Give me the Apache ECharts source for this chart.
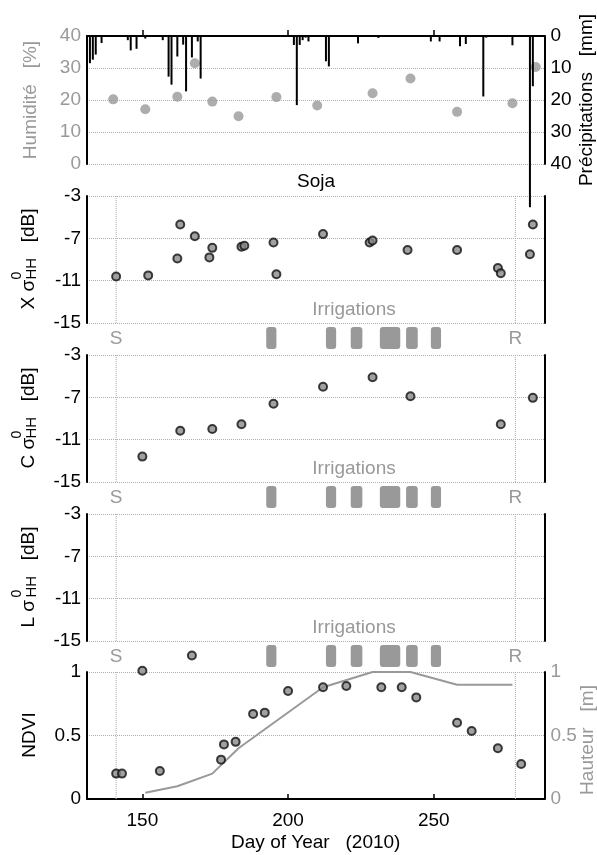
<!DOCTYPE html>
<html><head><meta charset="utf-8">
<script src="https://cdn.jsdelivr.net/npm/echarts@6/dist/echarts.min.js"></script>
<style>html,body{margin:0;padding:0;background:#fff}#c{width:597px;height:855px}</style>
</head><body><div id="c"></div>
<script>
// ---------- data ----------
const DOY_MIN = 131, DOY_MAX = 288;
const dayTicks = [150, 200, 250];

const precipDays = [132, 133, 134, 136, 145, 146, 148, 151, 157, 159, 160, 162, 164, 165, 167, 169, 170, 202, 203, 204, 205, 206, 207, 213, 214, 224, 231, 249, 252, 259, 261, 267, 268, 277, 283, 284];
const precipMm   = [8.5, 7.4, 5.8, 2.2, 1.3, 4.5, 4.0, 0.8, 1.3, 12.7, 15.2, 6.4, 2.7, 17.3, 6.7, 1.7, 13.3, 2.8, 21.6, 2.8, 1.3, 0.5, 1.7, 7.9, 9.5, 2.3, 0.6, 1.7, 1.7, 3.2, 2.5, 18.9, 0.5, 2.9, 53.5, 15.7];

const humidityDays = [140, 151, 162, 168, 174, 183, 196, 210, 229, 242, 258, 277, 285];
const humidityPct  = [20.2, 17.1, 21.0, 31.5, 19.5, 14.9, 20.9, 18.3, 22.1, 26.7, 16.3, 19.0, 30.3];

const xBandDays = [141, 152, 162, 163, 168, 173, 174, 184, 185, 195, 196, 212, 228, 229, 241, 258, 272, 273, 283, 284];
const xBandDb   = [-10.6, -10.5, -8.9, -5.7, -6.8, -8.8, -7.9, -7.8, -7.7, -7.4, -10.4, -6.6, -7.4, -7.2, -8.1, -8.1, -9.8, -10.3, -8.5, -5.7];

const cBandDays = [150, 163, 174, 184, 195, 212, 229, 242, 273, 284];
const cBandDb   = [-12.6, -10.15, -10.0, -9.55, -7.6, -6.0, -5.1, -6.9, -9.55, -7.05];

const lBandDays = [];
const lBandDb   = [];

const ndviDays   = [141, 143, 150, 156, 167, 177, 178, 182, 188, 192, 200, 212, 220, 232, 239, 244, 258, 263, 272, 280];
const ndviValues = [0.20, 0.20, 1.01, 0.22, 1.13, 0.31, 0.43, 0.45, 0.67, 0.68, 0.85, 0.88, 0.89, 0.88, 0.88, 0.80, 0.60, 0.535, 0.40, 0.276];

const heightDays = [151, 162, 174, 183, 212, 229, 242, 258, 277];
const heightM    = [0.05, 0.10, 0.20, 0.40, 0.88, 1.00, 1.00, 0.90, 0.90];

const irrigationStart = [192.5, 213, 221.5, 231.5, 240.5, 249];
const irrigationEnd   = [196, 216.5, 225.5, 238.5, 244.5, 252.5];

const seasonDays   = [141, 278];
const seasonLabels = ['S', 'R'];

// ---------- styling ----------
const FONT = '"Liberation Sans", Arial, Helvetica, sans-serif';
const FS = 19;
const GRAY = '#999999';
const PT_FILL = '#8a8a8a';
const pairs = (xs, ys) => xs.map((x, i) => [x, ys[i]]);
const gridLine = { show: true, lineStyle: { color: '#b0b0b0', type: 'dotted', width: 1 } };
const blackAxis = { show: true, onZero: false, lineStyle: { color: '#000', width: 2 } };

const L = 87, W = 457.5, R = 597 - L - W;
const gridTops = [36, 196, 355, 514, 672, 327, 486, 645];
const gridHeights = [128, 127, 127, 127, 127, 22, 22, 22];
const grids = gridTops.map((t, i) => ({ left: L, width: W, top: t, height: gridHeights[i] }));

const xAxes = grids.map((g, i) => {
  const base = { type: 'value', gridIndex: i, min: DOY_MIN, max: DOY_MAX, splitLine: { show: false } };
  if (i === 0) {
    return Object.assign(base, {
      position: 'top', axisLine: blackAxis,
      axisTick: { show: true, inside: false, length: 6, customValues: dayTicks, lineStyle: { color: '#000', width: 1.5 } },
      axisLabel: { show: false }
    });
  }
  if (i === 4) {
    return Object.assign(base, {
      position: 'bottom', axisLine: blackAxis,
      axisTick: { show: true, inside: true, length: 5, customValues: dayTicks, lineStyle: { color: '#000', width: 1.5 } },
      axisLabel: { show: true, customValues: dayTicks, color: '#000', fontFamily: FONT, fontSize: FS, margin: 12 },
      name: 'Day of Year   (2010)', nameLocation: 'middle', nameGap: 34,
      nameTextStyle: { color: '#000', fontFamily: FONT, fontSize: FS }
    });
  }
  return Object.assign(base, { show: false });
});

function yAx(grid, pos, min, max, interval, labelColor, opts) {
  return Object.assign({
    type: 'value', gridIndex: grid, position: pos, min, max, interval,
    axisLine: blackAxis, axisTick: { show: false },
    axisLabel: { show: true, color: labelColor, fontFamily: FONT, fontSize: FS, margin: 6 },
    splitLine: { show: false }
  }, opts || {});
}
const yAxes = [
  yAx(0, 'left', 0, 40, 10, GRAY, { splitLine: gridLine }),                 // 0 humidity
  yAx(0, 'right', 0, 40, 10, '#000', { inverse: true }),                   // 1 precipitation
  yAx(1, 'left', -15, -3, 4, '#000', { splitLine: gridLine }),             // 2 X
  yAx(1, 'right', -15, -3, 4, '#000', { axisLabel: { show: false } }),     // 3
  yAx(2, 'left', -15, -3, 4, '#000', { splitLine: gridLine }),             // 4 C
  yAx(2, 'right', -15, -3, 4, '#000', { axisLabel: { show: false } }),     // 5
  yAx(3, 'left', -15, -3, 4, '#000', { splitLine: gridLine }),             // 6 L
  yAx(3, 'right', -15, -3, 4, '#000', { axisLabel: { show: false } }),     // 7
  yAx(4, 'left', 0, 1, 0.5, '#000', { splitLine: gridLine }),              // 8 NDVI
  yAx(4, 'right', 0, 1, 0.5, GRAY),                                        // 9 height
  { type: 'value', gridIndex: 5, min: 0, max: 1, show: false },            // 10
  { type: 'value', gridIndex: 6, min: 0, max: 1, show: false },            // 11
  { type: 'value', gridIndex: 7, min: 0, max: 1, show: false }             // 12
];

function seasonLineItem(params, api) {
  const x = api.coord([api.value(0), api.value(1)])[0];
  const cs = params.coordSys;
  return { type: 'line', shape: { x1: x, y1: cs.y, x2: x, y2: cs.y + cs.height },
           style: { stroke: '#a8a8a8', lineWidth: 1, lineDash: [1, 1] } };
}
function irrigationItem(params, api) {
  const a = api.coord([api.value(0), 0]);
  const b = api.coord([api.value(1), 1]);
  return { type: 'rect', shape: { x: a[0], y: b[1], width: b[0] - a[0], height: a[1] - b[1], r: 3 },
           style: { fill: GRAY } };
}
function seasonLabelItem(params, api) {
  const p = api.coord([api.value(0), 0.5]);
  return { type: 'text', x: p[0], y: p[1] + 1,
           style: { text: seasonLabels[params.dataIndex], fill: GRAY, font: FS + 'px ' + FONT, align: 'center', verticalAlign: 'middle' } };
}

const ptStyle = { color: PT_FILL, borderColor: '#111', borderWidth: 2 };
const series = [
  { type: 'bar', xAxisIndex: 0, yAxisIndex: 1, data: pairs(precipDays, precipMm), barWidth: 2,
    itemStyle: { color: '#000' }, clip: false, z: 4, animation: false },
  { type: 'scatter', xAxisIndex: 0, yAxisIndex: 0, data: pairs(humidityDays, humidityPct), symbolSize: 10,
    itemStyle: { color: GRAY }, z: 3, clip: false },
  { type: 'scatter', xAxisIndex: 1, yAxisIndex: 2, data: pairs(xBandDays, xBandDb), symbolSize: 8, itemStyle: ptStyle, z: 5, clip: false },
  { type: 'scatter', xAxisIndex: 2, yAxisIndex: 4, data: pairs(cBandDays, cBandDb), symbolSize: 8, itemStyle: ptStyle, z: 5, clip: false },
  { type: 'scatter', xAxisIndex: 3, yAxisIndex: 6, data: pairs(lBandDays, lBandDb), symbolSize: 8, itemStyle: ptStyle, z: 5, clip: false },
  { type: 'line', xAxisIndex: 4, yAxisIndex: 9, data: pairs(heightDays, heightM), showSymbol: false, symbol: 'none',
    lineStyle: { color: GRAY, width: 2 }, z: 3 },
  { type: 'scatter', xAxisIndex: 4, yAxisIndex: 8, data: pairs(ndviDays, ndviValues), symbolSize: 8, itemStyle: ptStyle, z: 5, clip: false }
];
[[1, 2, -9], [2, 4, -9], [3, 6, -9], [4, 8, 0.5]].forEach(([xi, yi, mid]) => {
  series.push({ type: 'custom', xAxisIndex: xi, yAxisIndex: yi, renderItem: seasonLineItem,
                data: seasonDays.map(d => [d, mid]), z: 2, silent: true });
});
[[5, 10], [6, 11], [7, 12]].forEach(([xi, yi]) => {
  series.push({ type: 'custom', xAxisIndex: xi, yAxisIndex: yi, renderItem: irrigationItem,
                data: irrigationStart.map((s, i) => [s, irrigationEnd[i]]), encode: { x: [0, 1] }, z: 2, silent: true });
  series.push({ type: 'custom', xAxisIndex: xi, yAxisIndex: yi, renderItem: seasonLabelItem,
                data: seasonDays.map(d => [d, 0.5]), z: 2, silent: true });
});

// ---------- text labels ----------
function txt(text, x, y, color, rot, size) {
  return { type: 'text', x, y, rotation: rot ? Math.PI / 2 : 0, silent: true,
           style: { text, fill: color, font: (size || FS) + 'px ' + FONT, align: 'center', verticalAlign: 'middle' } };
}
function sigmaLabel(letter, cy) {
  return { type: 'group', x: 28.5, y: cy, rotation: Math.PI / 2, silent: true, children: [
    { type: 'text', x: -50.5, y: 0, style: { text: letter + ' σ', fill: '#000', font: FS + 'px ' + FONT, align: 'left', verticalAlign: 'middle' } },
    { type: 'text', x: -20.5, y: -11, style: { text: '0', fill: '#000', font: '14px ' + FONT, align: 'left', verticalAlign: 'middle' } },
    { type: 'text', x: -20.5, y: 3, style: { text: 'HH', fill: '#000', font: '15px ' + FONT, align: 'left', verticalAlign: 'middle' } },
    { type: 'text', x: 50.5, y: 0, style: { text: '[dB]', fill: '#000', font: FS + 'px ' + FONT, align: 'right', verticalAlign: 'middle' } }
  ] };
}
const graphic = [
  txt('Soja', 316, 182, '#000'),
  txt('Irrigations', 354, 310, GRAY),
  txt('Irrigations', 354, 469, GRAY),
  txt('Irrigations', 354, 628, GRAY),
  txt('Humidité   [%]', 31, 100, GRAY, true),
  txt('Précipitations   [mm]', 587, 100, '#000', true),
  txt('NDVI', 30, 735, '#000', true),
  txt('Hauteur   [m]', 588, 740, GRAY, true),
  sigmaLabel('X', 259),
  sigmaLabel('C', 418),
  sigmaLabel('L', 577)
];

const chart = echarts.init(document.getElementById('c'), null, { renderer: 'canvas', width: 597, height: 855 });
chart.setOption({
  backgroundColor: '#fff', animation: false,
  textStyle: { fontFamily: FONT },
  grid: grids, xAxis: xAxes, yAxis: yAxes, series, graphic
});
</script></body></html>
